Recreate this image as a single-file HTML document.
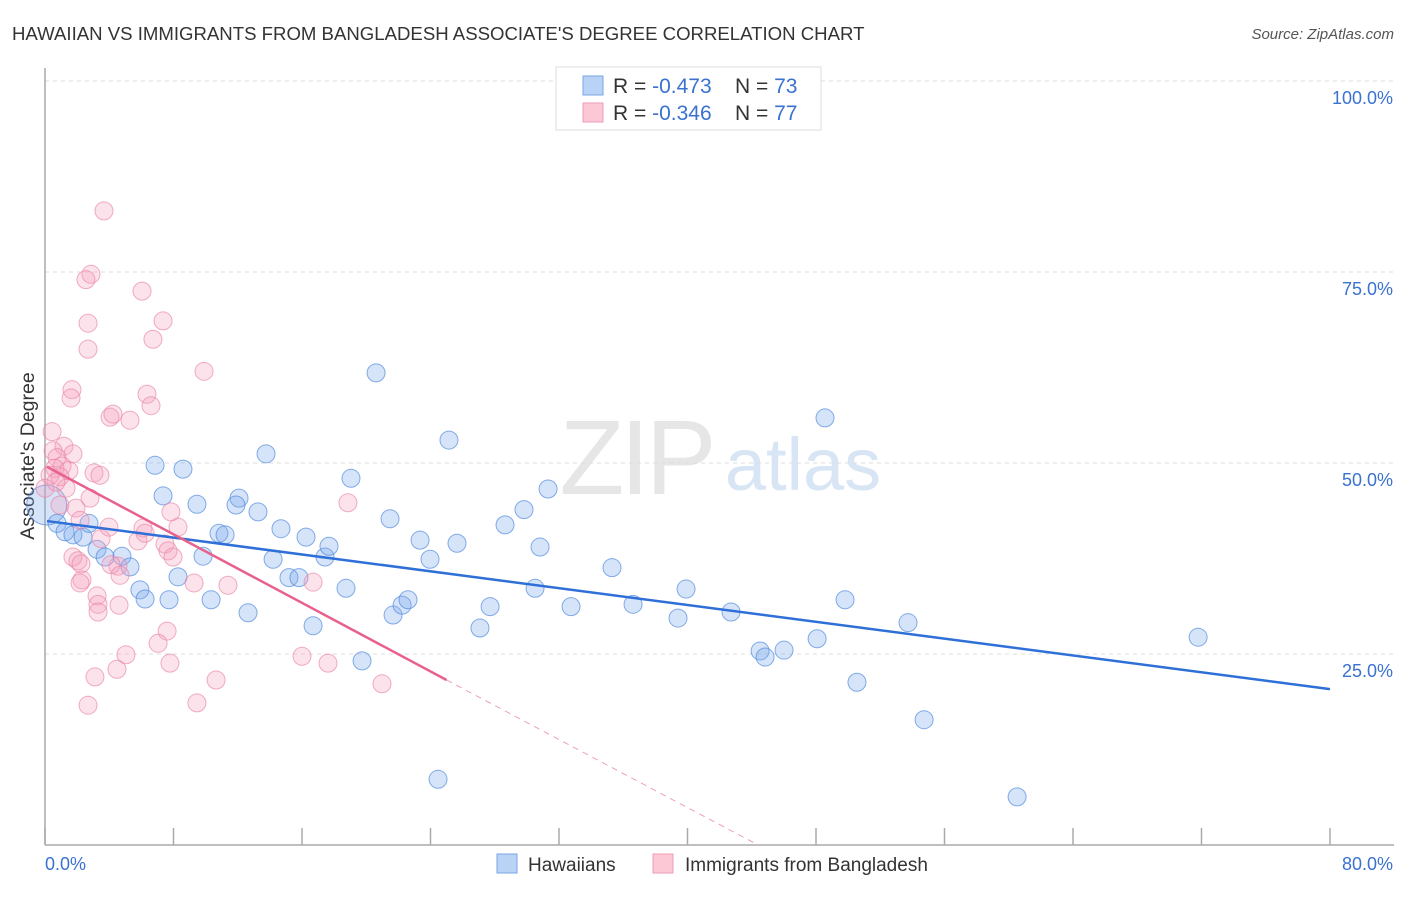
<!DOCTYPE html>
<html><head><meta charset="utf-8"><style>
body{margin:0;background:#fff;font-family:"Liberation Sans",sans-serif;}
svg text{font-family:"Liberation Sans",sans-serif;}
</style></head><body>
<svg id="chart" width="1406" height="892" xmlns="http://www.w3.org/2000/svg">
<text x="12" y="40" font-size="18.6" fill="#333">HAWAIIAN VS IMMIGRANTS FROM BANGLADESH ASSOCIATE'S DEGREE CORRELATION CHART</text>
<text x="1394" y="39" font-size="15" fill="#555" text-anchor="end" font-style="italic">Source: ZipAtlas.com</text>
<text transform="translate(34,456) rotate(-90)" font-size="19.5" fill="#333" text-anchor="middle">Associate's Degree</text>
<g>
<text x="636" y="494" font-size="106" fill="#e6e6e6" text-anchor="middle" font-family="Liberation Serif" letter-spacing="-4">ZIP</text>
<text x="803" y="490" font-size="74" fill="#d8e5f5" text-anchor="middle">atlas</text>
</g>
<g id="grid"></g><g id="axes"></g><g id="points"></g><g id="trends"></g>
<g>
<rect x="556" y="67" width="265" height="63" fill="#fff" stroke="#ddd"/>
<rect x="583" y="76" width="20" height="19" fill="#b8d3f5" stroke="#7aa6e6"/>
<rect x="583" y="103" width="20" height="19" fill="#fcc8d6" stroke="#ee9cb5"/>
<text x="613" y="93" font-size="21" fill="#333">R = <tspan fill="#3a72d0">-0.473</tspan></text>
<text x="735" y="93" font-size="21" fill="#333">N = <tspan fill="#3a72d0">73</tspan></text>
<text x="613" y="120" font-size="21" fill="#333">R = <tspan fill="#3a72d0">-0.346</tspan></text>
<text x="735" y="120" font-size="21" fill="#333">N = <tspan fill="#3a72d0">77</tspan></text>
</g>
<g>
<rect x="497" y="854" width="20" height="19" fill="#b8d3f5" stroke="#7aa6e6"/>
<text x="528" y="871" font-size="19" fill="#333">Hawaiians</text>
<rect x="653" y="854" width="20" height="19" fill="#fcc8d6" stroke="#ee9cb5"/>
<text x="685" y="871" font-size="19" fill="#333">Immigrants from Bangladesh</text>
</g>
</svg>
<script>
const blueX=[0.1,0.75,1.25,1.74,2.37,2.74,3.24,3.74,4.79,5.29,5.91,6.23,6.85,7.35,7.72,8.28,8.59,9.46,9.84,10.34,10.83,11.21,12.08,11.89,12.64,13.26,13.76,14.2,14.69,15.19,15.81,16.25,16.69,17.43,17.68,18.74,19.05,19.74,20.61,21.48,21.67,22.23,22.6,23.35,23.97,24.47,25.15,25.65,27.08,27.71,28.64,29.82,30.51,30.82,31.32,32.75,35.3,36.61,39.41,39.91,42.71,44.52,44.83,46.01,48.07,48.56,49.81,50.55,53.73,54.73,60.52,71.79];
const blueY=[44.5,42.1,41.0,40.6,40.3,42.1,38.7,37.7,37.8,36.4,33.4,32.2,49.7,45.7,32.1,35.1,49.2,44.6,37.8,32.1,40.8,40.6,45.4,44.5,30.4,43.6,51.2,37.4,41.4,35.0,35.0,40.3,28.7,37.7,39.1,33.6,48.0,24.1,61.8,42.7,30.1,31.4,32.1,39.9,37.4,8.6,53.0,39.5,28.4,31.2,41.9,43.9,33.6,39.0,46.6,31.2,36.3,31.5,29.7,33.5,30.5,25.4,24.6,25.5,27.0,55.9,32.1,21.3,29.1,16.4,6.3,27.2];
const pinkX=[3.67,2.86,2.55,6.04,2.68,7.35,2.68,6.72,9.9,1.68,1.62,6.35,6.6,4.05,4.23,5.29,0.44,1.18,0.5,0.75,1.74,1.06,0.62,1.49,0.93,3.05,3.42,1.31,2.8,0.93,1.93,2.18,3.98,6.1,8.28,7.84,18.86,3.49,5.79,6.23,7.47,7.66,7.97,1.74,2.05,2.24,2.3,2.18,4.54,4.11,4.67,3.24,3.3,3.3,4.61,9.28,11.39,16.69,7.6,7.04,5.04,4.48,3.11,2.68,9.46,10.65,7.78,16.0,17.62,20.98,0.31,0.68,0];
const pinkY=[83.0,74.7,74.0,72.5,68.3,68.6,64.9,66.2,62.0,59.6,58.5,59.0,57.5,56.0,56.4,55.6,54.1,52.2,51.6,50.7,51.2,49.6,49.3,49.0,48.2,48.7,48.4,46.7,45.4,44.5,44.1,42.5,41.6,41.5,41.6,43.6,44.8,40.1,39.8,40.8,39.4,38.5,37.7,37.7,37.2,36.8,34.7,34.3,36.5,36.7,35.3,32.6,31.5,30.5,31.4,34.3,34.0,34.4,28.0,26.4,24.9,23.0,22.0,18.3,18.6,21.6,23.8,24.7,23.8,21.1,48.4,47.5,46.7];
const yTicks=[25,50,75,100];
const yTickLabels=["25.0%","50.0%","75.0%","100.0%"];
const blueTrend=[[0,42.4],[80,20.4]];
const pinkTrendSolid=[[0,49.5],[25,21.6]];
const pinkTrendDash=[[25,21.6],[44.4,0]];
const X0=45,X1=1330,Y0=845,Y1=81;
const sx=v=>X0+(v/80)*(X1-X0);
const sy=v=>Y0-(v/100)*(Y0-Y1);
const NS="http://www.w3.org/2000/svg";
function mk(tag,parent,attrs){const e=document.createElementNS(NS,tag);for(const k in attrs)e.setAttribute(k,attrs[k]);parent.appendChild(e);return e;}
const grid=document.getElementById('grid'),axes=document.getElementById('axes'),pts=document.getElementById('points'),tr=document.getElementById('trends');
yTicks.forEach((t,i)=>{
 const l=mk('line',grid,{x1:X0,x2:1394,y1:sy(t),y2:sy(t),stroke:'#ddd','stroke-dasharray':'4,4'});
 
 
 const tx=mk('text',axes,{x:1393,y:sy(t)+23,'font-size':18,fill:'#3a72d0','text-anchor':'end'});
 tx.textContent=yTickLabels[i];
 
 
});
const ya=mk('line',axes,{x1:X0,x2:X0,y1:68,y2:Y0,stroke:'#aaa','stroke-width':1.5});


const xa=mk('line',axes,{x1:X0,x2:1394,y1:Y0,y2:Y0,stroke:'#aaa','stroke-width':1.5});


for(let v=0;v<=80;v+=8){
 const tk=mk('line',axes,{x1:sx(v),x2:sx(v),y1:828,y2:Y0,stroke:'#aaa','stroke-width':1.5});
 
 
}
const xl0=mk('text',axes,{x:45,y:870,'font-size':18,fill:'#3a72d0'});xl0.textContent='0.0%';


const xl1=mk('text',axes,{x:1393,y:870,'font-size':18,fill:'#3a72d0','text-anchor':'end'});xl1.textContent='80.0%';


blueX.forEach((x,i)=>{
 const c=mk('circle',pts,{cx:sx(x),cy:sy(blueY[i]),r:i===0?20:9,fill:'rgba(120,165,235,0.3)',stroke:'rgba(70,130,220,0.65)','stroke-width':1});
 
 
});
pinkX.forEach((x,i)=>{
 const c=mk('circle',pts,{cx:sx(x),cy:sy(pinkY[i]),r:9,fill:'rgba(245,160,190,0.3)',stroke:'rgba(232,130,165,0.65)','stroke-width':1});
 
 
});
const bl=mk('line',tr,{x1:sx(blueTrend[0][0])+2,y1:sy(blueTrend[0][1]),x2:sx(blueTrend[1][0]),y2:sy(blueTrend[1][1]),stroke:'#2f6fd8','stroke-width':2.5});


const pl=mk('line',tr,{x1:sx(pinkTrendSolid[0][0])+2,y1:sy(pinkTrendSolid[0][1]),x2:sx(pinkTrendSolid[1][0]),y2:sy(pinkTrendSolid[1][1]),stroke:'#e8608c','stroke-width':2.5});


const pd=mk('line',tr,{x1:sx(pinkTrendDash[0][0]),y1:sy(pinkTrendDash[0][1]),x2:sx(pinkTrendDash[1][0]),y2:sy(pinkTrendDash[1][1]),stroke:'#eca0b8','stroke-width':1,'stroke-dasharray':'6,5'});


</script>
</body></html>
